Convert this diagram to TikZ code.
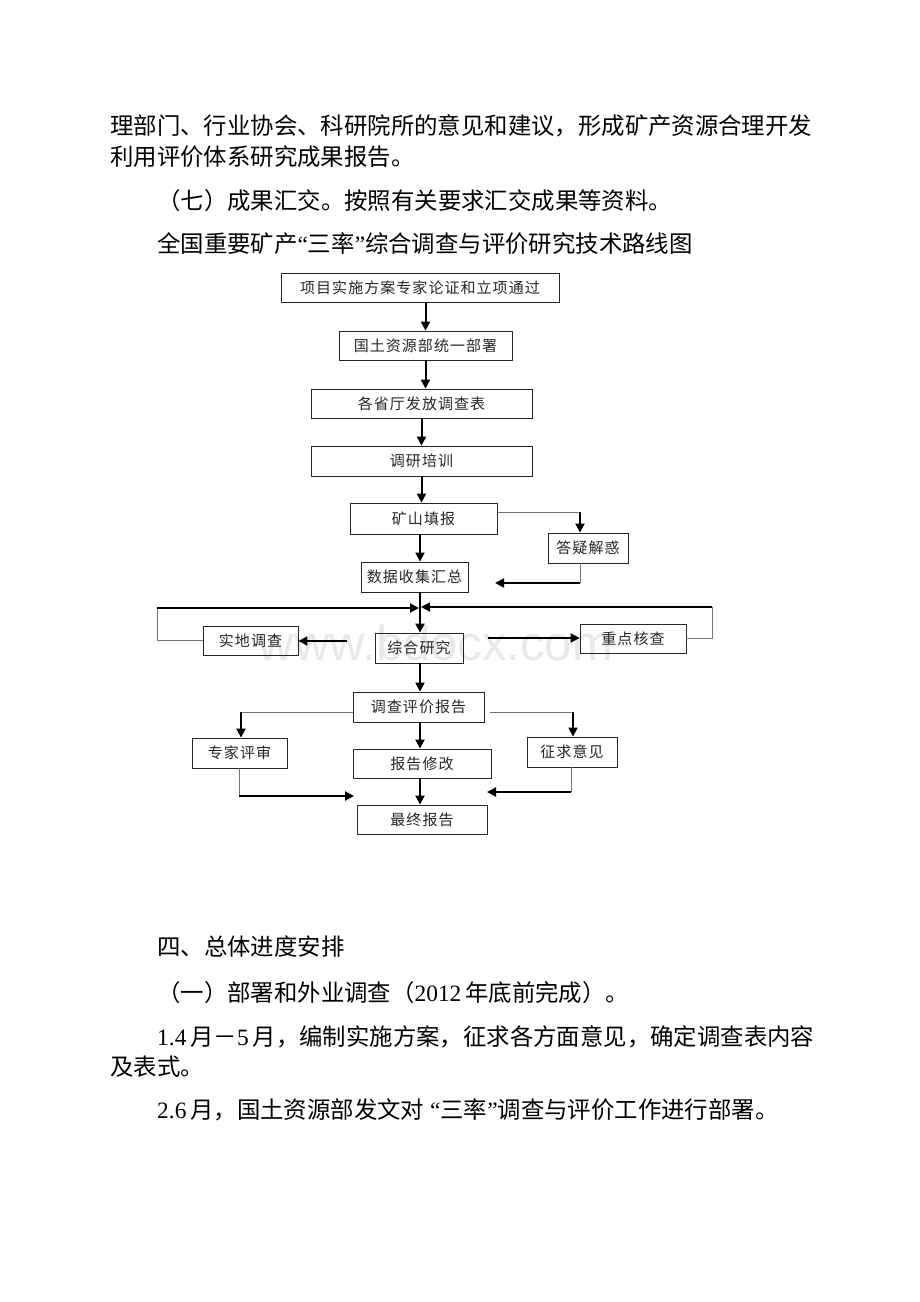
\documentclass[tikz,border=0pt]{standalone}
\usepackage{fontspec}
\setmainfont{Liberation Serif}
\newfontfamily\cjk{Noto Sans CJK SC}
\newfontfamily\cjkbox[LetterSpace=7]{Noto Sans CJK SC}
\newfontfamily\wmfont{Liberation Sans}
\usetikzlibrary{arrows.meta}
\newcommand\latn[1]{{\rmfamily #1}}
\begin{document}
\begin{tikzpicture}[x=1pt,y=-1pt,
  box/.style={draw=black!85, line width=0.8pt, inner sep=0pt, text=black!85,
    font=\cjkbox\fontsize{15pt}{17pt}\selectfont},
  arr/.style={draw=black, line width=2pt, -{Triangle[length=9pt,width=9pt]}},
  thinl/.style={draw=black!55, line width=0.8pt},
  body/.style={anchor=base west, inner sep=0pt, font=\cjk\fontsize{23.4pt}{28pt}\selectfont}]
\useasboundingbox (0,0) rectangle (920,1302);
\fill[white] (0,0) rectangle (920,1302);

% watermark
\node[font=\wmfont\fontsize{49pt}{50pt}\selectfont, text=black!9, anchor=base, inner sep=0pt] (wm) at (436,660) {www.bdocx.com};

% body text
\node[body] (p1) at (110,134) {理部门、行业协会、科研院所的意见和建议，形成矿产资源合理开发};
\node[body] (p2) at (110,165) {利用评价体系研究成果报告。};
\node[body] (p3) at (157,209) {（七）成果汇交。按照有关要求汇交成果等资料。};
\node[body] (p4) at (157,252) {全国重要矿产\latn{“}三率\latn{”}综合调查与评价研究技术路线图};
\node[body] (p5) at (157,955) {四、总体进度安排};
\node[body] (p6) at (157,1001) {（一）部署和外业调查（\latn{2012}\,年底前完成）。};
\node[body] (p7) at (157,1045) {\latn{1.4}\,月－\latn{5}\,月，编制实施方案，征求各方面意见，确定调查表内容};
\node[body] (p8) at (110,1075) {及表式。};
\node[body] (p9) at (157,1118) {\latn{2.6}\,月，国土资源部发文对\latn{ “}三率\latn{”}调查与评价工作进行部署。};

% boxes
\node[box, minimum width=278pt, minimum height=29pt] (b1) at (420,287.5) {项目实施方案专家论证和立项通过};
\node[box, minimum width=173pt, minimum height=29pt] (b2) at (425.5,345.5) {国土资源部统一部署};
\node[box, minimum width=221pt, minimum height=29pt] (b3) at (421.5,403.5) {各省厅发放调查表};
\node[box, minimum width=221pt, minimum height=30pt] (b4) at (421.5,461) {调研培训};
\node[box, minimum width=147pt, minimum height=31pt] (b5) at (423.5,518.5) {矿山填报};
\node[box, minimum width=80pt, minimum height=30pt] (b6) at (588,548) {答疑解惑};
\node[box, minimum width=107pt, minimum height=30pt] (b7) at (414.5,577) {数据收集汇总};
\node[box, minimum width=95pt, minimum height=29pt] (b8) at (250.5,640.5) {实地调查};
\node[box, minimum width=88pt, minimum height=30pt] (b9) at (419,648) {综合研究};
\node[box, minimum width=106pt, minimum height=29pt] (b10) at (633,638.5) {重点核查};
\node[box, minimum width=131pt, minimum height=30pt] (b11) at (418.5,707) {调查评价报告};
\node[box, minimum width=95pt, minimum height=30pt] (b12) at (239.5,753) {专家评审};
\node[box, minimum width=138pt, minimum height=29pt] (b13) at (422,763.5) {报告修改};
\node[box, minimum width=90pt, minimum height=30pt] (b14) at (572,752) {征求意见};
\node[box, minimum width=130pt, minimum height=29pt] (b15) at (422,819.5) {最终报告};

% helper coordinates
\coordinate (v) at (420,0);
\coordinate (k1) at (580,512);
\coordinate (k2) at (580,583);
\coordinate (k3) at (495,583);
\coordinate (l1) at (157,608);
\coordinate (l2) at (419,608);
\coordinate (r1) at (712,607);
\coordinate (r2) at (421,607);
\coordinate (s1) at (347,641);
\coordinate (s2) at (488,638);
\coordinate (t1) at (241,712);
\coordinate (t2) at (490,712);
\coordinate (t3) at (573,712);
\coordinate (u1) at (239,796);
\coordinate (u2) at (354,796);
\coordinate (w1) at (571,792);
\coordinate (w2) at (487,792);

% main chain
\draw[arr] (b1.south -| b2.north) -- (b2.north);
\draw[arr] (b2.south) -- (b2.south |- b3.north);
\draw[arr] (b3.south) -- (b4.north);
\draw[arr] (b4.south) -- (b4.south |- b5.north);
\draw[arr] (b5.south -| v) -- (b7.north -| v);
\draw[arr] (b7.south -| v) -- (b9.north -| v);
\draw[arr] (b9.south -| v) -- (b11.north -| v);
\draw[arr] (b11.south -| v) -- (b13.north -| v);
\draw[arr] (b13.south -| v) -- (b15.north -| v);

% question loop
\draw[thinl] (b5.east |- k1) -- (k1);
\draw[arr] (k1) -- (k1 |- b6.north);
\draw[thinl] (k2 |- b6.south) -- (k2);
\draw[arr] (k2) -- (k3);

% side loops
\draw[thinl] (b8.west) -- (b8.west -| l1) -- (l1);
\draw[arr] (l1) -- (l2);
\draw[thinl] (b10.east) -- (b10.east -| r1) -- (r1);
\draw[arr] (r1) -- (r2);
\draw[arr] (s1) -- (s1 -| b8.east);
\draw[arr] (s2) -- (s2 -| b10.west);

% report branch
\draw[thinl] (b11.west |- t1) -- (t1);
\draw[arr] (t1) -- (t1 |- b12.north);
\draw[thinl] (t2) -- (t3);
\draw[arr] (t3) -- (t3 |- b14.north);
\draw[thinl] (u1 |- b12.south) -- (u1);
\draw[arr] (u1) -- (u2);
\draw[thinl] (w1 |- b14.south) -- (w1);
\draw[arr] (w1) -- (w2);
\end{tikzpicture}
\end{document}
